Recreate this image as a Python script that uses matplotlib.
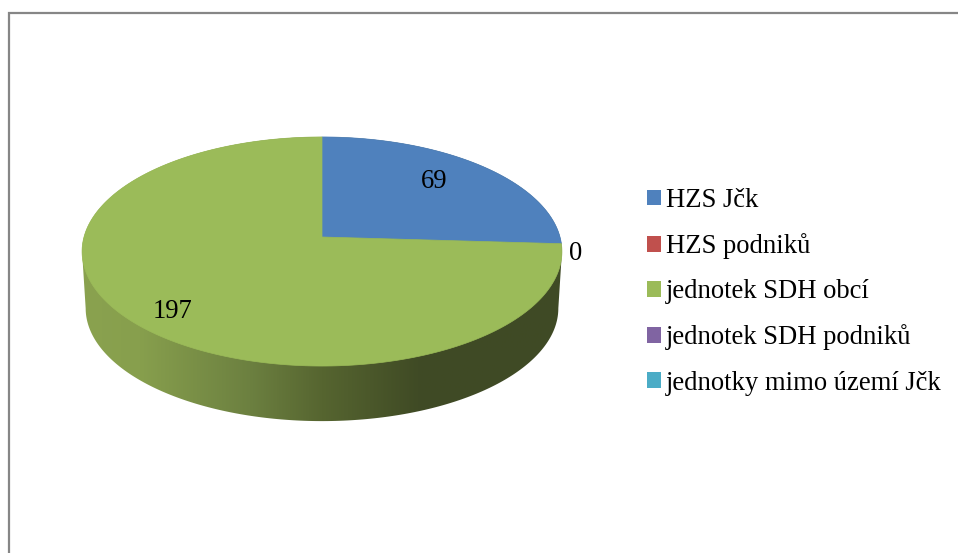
import numpy as np
import matplotlib.pyplot as plt
from matplotlib.colors import LinearSegmentedColormap
from matplotlib.patches import Patch, Polygon

categories = ['HZS Jčk', 'HZS podniků', 'jednotek SDH obcí',
              'jednotek SDH podniků', 'jednotky mimo území Jčk']
values = [69, 0, 197, 0, 0]
colors = ['#4f81bd', '#c0504d', '#9bbb59', '#8064a2', '#4bacc6']
label_text = ['69', '0', '197']
label_pos = [(434, 182), (576, 254), (173, 312)]

plt.rcParams['font.family'] = ['Liberation Serif', 'DejaVu Serif']

# pie geometry in pixels, the tilt gives the off-centre apex
cx, cy = 322, 237
a, b, k = 238, 112.7, 0.1266


def project(theta, scale=1.0, dy=0.0):
    # theta runs clockwise from the top of the pie
    u, v = np.sin(theta), np.cos(theta)
    d = 1 + k * v
    return np.column_stack([cx + scale * a * u / d, cy + dy - scale * b * v / d])


fig = plt.figure(figsize=(9.58, 5.53), dpi=100)
ax = fig.add_axes([0, 0, 1, 1])
ax.axis('off')

# chart frame, only left and top are in the crop
ax.plot([9, 9, 958], [553, 13, 13], color='#868686', lw=1.6, solid_joinstyle='miter')

# side of the pie with its shading
side_cmap = LinearSegmentedColormap.from_list('side', [
    (0.0, '#8aa24f'), (0.12, '#879f4d'), (0.35, '#6c8040'),
    (0.5, '#566530'), (0.7, '#404b25'), (1.0, '#3f4a25')])
edge = np.arcsin(k)
back = project(np.linspace(-np.pi / 2 - edge, np.pi / 2 + edge, 200))
front = project(np.linspace(np.pi / 2 + edge, 3 * np.pi / 2 - edge, 200), 0.985, 57)
outline = Polygon(np.vstack([back, front]), closed=True, fc='none', ec='none')
ax.add_patch(outline)
img = ax.imshow(np.linspace(0, 1, 256).reshape(1, -1), cmap=side_cmap, aspect='auto',
                extent=(82, 562, 425, 130), zorder=1)
img.set_clip_path(outline)
ax.set_xlim(0, 958)
ax.set_ylim(553, 0)

# top faces
start = 0.0
for value, color in zip(values, colors):
    sweep = value / sum(values) * 2 * np.pi
    if value > 0:
        arc = project(np.linspace(start, start + sweep, 300))
        ax.add_patch(Polygon(np.vstack([[cx, cy], arc]), closed=True, fc=color, ec=color,
                             lw=0.5, zorder=2))
    start += sweep

for text, (x, y) in zip(label_text, label_pos):
    ax.text(x, y, text, fontsize=19.2, color='black', ha='center', va='center', zorder=3)

handles = [Patch(fc=c, ec='none') for c in colors]
ax.legend(handles, categories, loc='upper left', bbox_to_anchor=(647 / 958, 1 - 188 / 553),
          bbox_transform=fig.transFigure, frameon=False, fontsize=19.2, handlelength=0.53,
          handleheight=0.53, handletextpad=0.19, labelspacing=0.756, borderpad=0, borderaxespad=0)

fig.savefig('out.png', dpi=100)
